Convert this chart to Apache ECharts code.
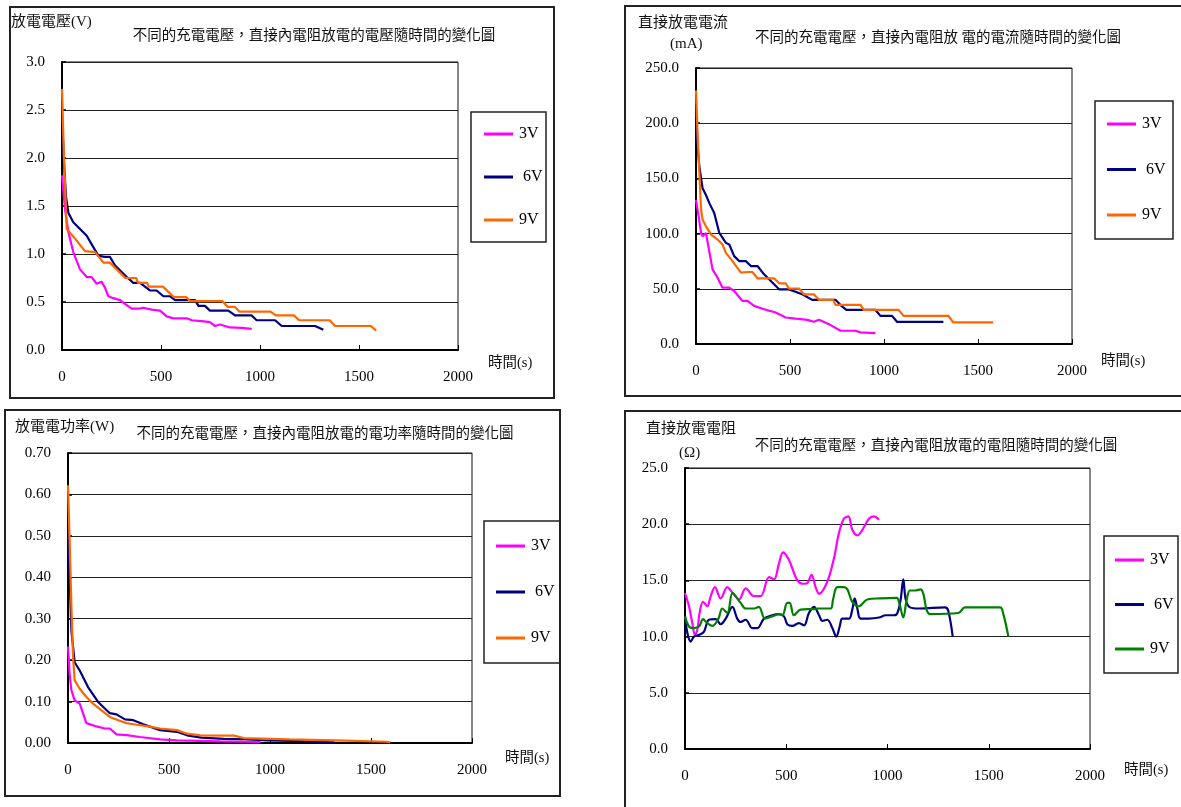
<!DOCTYPE html>
<html>
<head>
<meta charset="utf-8">
<script src="https://cdn.jsdelivr.net/npm/echarts@6/dist/echarts.min.js"></script>
<style>
  html, body { margin: 0; padding: 0; background: #fff; width: 1181px; height: 807px; overflow: hidden; position: relative; }
  .panel { position: absolute; }
</style>
</head>
<body>
<div id="pVolt" class="panel" style="left:9px;top:6px;width:546px;height:393px"></div>
<div id="pCurr" class="panel" style="left:624px;top:5px;width:562px;height:392px"></div>
<div id="pPow" class="panel" style="left:4px;top:409px;width:557px;height:388px"></div>
<div id="pRes" class="panel" style="left:624px;top:410px;width:562px;height:402px"></div>
<script>
// ---- time axis (s) ----
const timeTicks = [0, 500, 1000, 1500, 2000];
const seriesNames = ['3V', ' 6V', '9V'];

// ---- discharge voltage (V) ----
const voltT3 = [0, 15, 32, 57, 91, 125, 150, 175, 200, 217, 234, 259, 293, 318, 352, 386, 411, 453, 495, 529, 562, 630, 655, 705, 747, 773, 798, 848, 907, 958];
const volt3  = [1.82, 1.47, 1.23, 1.02, 0.84, 0.76, 0.76, 0.69, 0.71, 0.65, 0.56, 0.54, 0.52, 0.48, 0.43, 0.43, 0.44, 0.42, 0.41, 0.35, 0.33, 0.33, 0.31, 0.30, 0.29, 0.25, 0.265, 0.235, 0.23, 0.22];
const voltT6 = [0, 10, 20, 32, 57, 91, 125, 150, 184, 217, 242, 268, 327, 360, 394, 444, 478, 512, 545, 571, 672, 689, 722, 747, 840, 874, 958, 983, 1076, 1110, 1278, 1320];
const volt6  = [2.45, 1.95, 1.6, 1.43, 1.33, 1.26, 1.19, 1.10, 0.98, 0.97, 0.97, 0.88, 0.76, 0.70, 0.70, 0.62, 0.62, 0.56, 0.56, 0.52, 0.52, 0.46, 0.46, 0.41, 0.41, 0.36, 0.36, 0.31, 0.31, 0.25, 0.25, 0.21];
const voltT9 = [0, 10, 24, 66, 116, 167, 209, 242, 320, 375, 384, 429, 438, 510, 565, 628, 646, 809, 836, 872, 896, 1053, 1080, 1171, 1198, 1352, 1379, 1560, 1587];
const volt9  = [2.72, 2.0, 1.26, 1.16, 1.03, 1.02, 0.91, 0.91, 0.75, 0.75, 0.70, 0.70, 0.66, 0.66, 0.55, 0.55, 0.51, 0.51, 0.45, 0.45, 0.40, 0.40, 0.36, 0.36, 0.31, 0.31, 0.25, 0.25, 0.20];

// ---- discharge current (mA) ----
const currT3 = [0, 14, 27, 35, 53, 62, 88, 115, 141, 177, 203, 247, 274, 309, 362, 424, 477, 530, 592, 627, 654, 716, 769, 848, 875, 954];
const curr3  = [130.6, 115.6, 100.6, 97.6, 100.6, 99, 67.6, 60, 51, 51, 48, 39, 39, 34.5, 31.5, 28.5, 24, 23, 21.9, 20.1, 21.9, 17.1, 12, 12, 10.5, 9.9];
const currT6 = [0, 9, 18, 35, 53, 71, 97, 124, 159, 177, 203, 230, 265, 292, 327, 362, 398, 442, 495, 565, 618, 742, 770, 800, 954, 981, 1043, 1069, 1316];
const curr6  = [210, 178, 160.7, 141, 135, 127.6, 118.6, 100.6, 91.6, 90.1, 79.6, 75.1, 75.1, 70.6, 70.6, 63.1, 57.1, 49.5, 49.5, 45, 40, 40, 35, 31, 31, 25.5, 25.5, 20.1, 20.1];
const currT9 = [0, 9, 27, 35, 53, 80, 115, 141, 159, 194, 239, 274, 300, 327, 415, 442, 477, 495, 548, 574, 627, 654, 730, 742, 875, 892, 1078, 1104, 1343, 1369, 1581];
const curr9  = [229.7, 187.7, 121.6, 112.6, 106.6, 99.1, 94.6, 90.1, 82.6, 75.1, 64.6, 65.2, 65.2, 59.5, 59.5, 55, 55, 50.2, 50.2, 45, 45, 40, 40, 35.4, 35.4, 30.9, 30.9, 25.5, 25.5, 19.5, 19.5];

// ---- discharge power (W) ----
const powT3 = [0, 8, 17, 33, 58, 91, 141, 182, 207, 240, 290, 356, 456, 539, 754, 953];
const pow3  = [0.233, 0.167, 0.127, 0.103, 0.095, 0.048, 0.040, 0.035, 0.035, 0.021, 0.019, 0.0145, 0.0088, 0.0064, 0.004, 0.0024];
const powT6 = [0, 8, 17, 33, 58, 99, 149, 207, 240, 282, 323, 373, 456, 539, 589, 660, 772, 870, 988, 1100, 1320];
const pow6  = [0.52, 0.40, 0.27, 0.195, 0.175, 0.135, 0.099, 0.072, 0.069, 0.057, 0.055, 0.045, 0.031, 0.027, 0.0185, 0.013, 0.010, 0.009, 0.006, 0.005, 0.0015];
const powT9 = [0, 8, 17, 25, 33, 58, 91, 124, 166, 207, 249, 290, 340, 398, 456, 539, 589, 655, 821, 870, 1096, 1370, 1577, 1595];
const pow9  = [0.622, 0.489, 0.328, 0.208, 0.151, 0.131, 0.111, 0.095, 0.079, 0.063, 0.055, 0.048, 0.044, 0.040, 0.035, 0.031, 0.0225, 0.0185, 0.0177, 0.012, 0.0089, 0.0056, 0.003, 0.0015];

// ---- discharge resistance (Ω) ----
const resT3 = [0, 20, 36, 49, 61, 72, 89, 110, 127, 148, 176, 209, 234, 267, 300, 341, 374, 415, 440, 464, 484, 514, 555, 588, 604, 625, 645, 662, 703, 736, 760, 785, 807, 826, 851, 876, 909, 933, 958];
const res3  = [13.86, 12.67, 11.2, 10.15, 10.6, 12.1, 13.1, 12.7, 13.6, 14.4, 13.4, 14.4, 13.9, 13.3, 14.3, 13.6, 13.6, 15.3, 15.1, 16.5, 17.5, 16.8, 15.0, 14.7, 14.75, 15.5, 14.4, 13.8, 14.9, 17.0, 19.2, 20.5, 20.7, 19.5, 19.0, 19.5, 20.5, 20.7, 20.4];
const resT6 = [0, 12, 28, 44, 69, 94, 118, 151, 176, 201, 234, 258, 275, 300, 332, 357, 390, 431, 464, 489, 505, 530, 563, 588, 612, 637, 662, 678, 703, 728, 747, 764, 777, 810, 826, 838, 851, 867, 909, 958, 991, 1032, 1049, 1065, 1078, 1090, 1111, 1156, 1284, 1300, 1322];
const res6  = [11.8, 10.3, 9.55, 10.0, 10.15, 10.45, 11.5, 11.55, 11.1, 11.6, 12.65, 11.6, 11.3, 11.5, 10.75, 10.75, 11.6, 11.9, 12.0, 11.8, 11.1, 10.95, 11.2, 11.0, 12.1, 12.65, 11.9, 11.4, 11.5, 10.75, 10.0, 10.9, 11.6, 11.6, 12.4, 13.4, 12.5, 11.6, 11.6, 11.7, 11.9, 11.9, 12.1, 13.3, 15.1, 13.3, 12.6, 12.5, 12.6, 12.3, 10.0];
const resT9 = [0, 16, 36, 69, 89, 110, 135, 165, 184, 209, 234, 250, 275, 300, 341, 365, 395, 431, 464, 481, 505, 517, 538, 571, 629, 662, 719, 731, 752, 785, 802, 826, 859, 900, 963, 1045, 1058, 1078, 1095, 1111, 1136, 1164, 1177, 1193, 1210, 1350, 1383, 1556, 1572, 1597];
const res9  = [11.8, 11.0, 10.75, 10.9, 11.55, 11.2, 10.95, 11.6, 12.5, 12.1, 13.9, 13.6, 13.0, 12.5, 12.5, 12.65, 11.6, 11.8, 12.0, 11.9, 13.0, 13.0, 11.9, 12.4, 12.45, 12.5, 12.5, 13.3, 14.4, 14.4, 14.2, 13.1, 12.7, 13.3, 13.4, 13.45, 13.0, 11.7, 13.3, 14.1, 14.1, 14.2, 13.8, 12.4, 12.0, 12.1, 12.6, 12.6, 12.0, 10.0];

const FONT = '"Liberation Serif", "Noto Sans CJK TC", serif';
const MAGENTA = '#ff00ff', NAVY = '#000080', ORANGE = '#ff6600', GREEN = '#008000';

function pairs(t, v) { return t.map((x, i) => [x, v[i]]); }

function buildPanel(id, cfg) {
  const el = document.getElementById(id);
  const chart = echarts.init(el, null, { renderer: 'canvas' });
  const W = el.clientWidth, H = el.clientHeight;
  const texts = cfg.texts.map(tx => ({
    type: 'text', x: tx.x, y: tx.y, silent: true,
    style: { text: tx.text, fontFamily: FONT, fontSize: tx.size || 14.5, fill: '#111',
             textAlign: tx.align || 'left', textVerticalAlign: 'middle' }
  }));
  const lb = cfg.legendBox;
  chart.setOption({
    animation: false,
    backgroundColor: '#fff',
    graphic: [
      { type: 'rect', silent: true, shape: { x: lb.x, y: lb.y, width: lb.w, height: lb.h },
        style: { fill: '#fff', stroke: '#222', lineWidth: 1.5 } },
      // outer frame drawn last so it stays on top of the legend box
      { type: 'rect', silent: true, z: 100, shape: { x: 1, y: 1, width: W - 2, height: H - 2 },
        style: { fill: 'none', stroke: '#222', lineWidth: 2 } }
    ].concat(texts),
    grid: { left: cfg.grid[0], top: cfg.grid[1], width: cfg.grid[2], height: cfg.grid[3],
            show: true, borderColor: '#111', borderWidth: 1, backgroundColor: 'transparent' },
    legend: {
      orient: 'vertical', left: cfg.legend[0], top: cfg.legend[1], padding: 0,
      itemGap: cfg.legend[2], itemWidth: 29, itemHeight: 3, icon: 'rect',
      selectedMode: false, data: seriesNames, z: 10,
      textStyle: { fontFamily: FONT, fontSize: 16, color: '#000', lineHeight: 16, padding: [0, 0, 0, 1] }
    },
    xAxis: {
      type: 'value', min: timeTicks[0], max: timeTicks[timeTicks.length - 1],
      interval: timeTicks[1] - timeTicks[0],
      axisLine: { show: true, lineStyle: { color: '#000', width: 2 } },
      axisTick: { show: true, inside: true, length: 5, lineStyle: { color: '#000', width: 1 } },
      axisLabel: { margin: 20, fontFamily: FONT, fontSize: 15, color: '#000',
                   formatter: v => String(v) },
      splitLine: { show: false }
    },
    yAxis: {
      type: 'value', min: 0, max: cfg.yMax, interval: cfg.yStep,
      axisLine: { show: true, lineStyle: { color: '#000', width: 2 } },
      axisTick: { show: true, inside: true, length: 4, lineStyle: { color: '#000', width: 1.5 } },
      axisLabel: { margin: 17, fontFamily: FONT, fontSize: 15, color: '#000',
                   formatter: v => v.toFixed(cfg.yDigits) },
      splitLine: { show: true, lineStyle: { color: '#222', width: 1 } }
    },
    series: cfg.series.map((s, i) => ({
      type: 'line', name: seriesNames[i], data: pairs(s.t, s.v),
      symbol: 'none', smooth: cfg.smooth || false, z: 3 + i,
      lineStyle: { color: s.color, width: 2.2 }, itemStyle: { color: s.color }
    }))
  });
}

// Voltage panel
buildPanel('pVolt', {
  grid: [53, 56, 396, 288], yMax: 3.0, yStep: 0.5, yDigits: 1,
  legendBox: { x: 462, y: 106, w: 75, h: 130 }, legend: [475, 120, 27],
  texts: [
    { text: '放電電壓(V)', x: 2, y: 16, size: 15 },
    { text: '不同的充電電壓，直接內電阻放電的電壓隨時間的變化圖', x: 305, y: 30, align: 'center' },
    { text: '時間(s)', x: 479, y: 357 }
  ],
  series: [ { t: voltT3, v: volt3, color: MAGENTA }, { t: voltT6, v: volt6, color: NAVY }, { t: voltT9, v: volt9, color: ORANGE } ]
});

// Current panel
buildPanel('pCurr', {
  grid: [72, 63, 376, 276], yMax: 250, yStep: 50, yDigits: 1,
  legendBox: { x: 471, y: 96, w: 78, h: 138 }, legend: [483, 111, 29.5],
  texts: [
    { text: '直接放電電流', x: 14, y: 18, size: 15 },
    { text: '(mA)', x: 46, y: 39, size: 15 },
    { text: '不同的充電電壓，直接內電阻放 電的電流隨時間的變化圖', x: 314, y: 33, align: 'center' },
    { text: '時間(s)', x: 477, y: 356 }
  ],
  series: [ { t: currT3, v: curr3, color: MAGENTA }, { t: currT6, v: curr6, color: NAVY }, { t: currT9, v: curr9, color: ORANGE } ]
});

// Power panel
buildPanel('pPow', {
  grid: [64, 44, 404, 290], yMax: 0.7, yStep: 0.1, yDigits: 2,
  legendBox: { x: 480, y: 112, w: 76, h: 142 }, legend: [492, 129, 30],
  texts: [
    { text: '放電電功率(W)', x: 11, y: 18, size: 15 },
    { text: '不同的充電電壓，直接內電阻放電的電功率隨時間的變化圖', x: 321, y: 25, align: 'center' },
    { text: '時間(s)', x: 501, y: 349 }
  ],
  series: [ { t: powT3, v: pow3, color: MAGENTA }, { t: powT6, v: pow6, color: NAVY }, { t: powT9, v: pow9, color: ORANGE } ]
});

// Resistance panel
buildPanel('pRes', {
  grid: [61, 58, 405, 281], yMax: 25, yStep: 5, yDigits: 1, smooth: 0.35,
  legendBox: { x: 480, y: 126, w: 74, h: 137 }, legend: [491, 142, 28.5],
  texts: [
    { text: '直接放電電阻', x: 22, y: 19, size: 15 },
    { text: '(Ω)', x: 55, y: 43, size: 15 },
    { text: '不同的充電電壓，直接內電阻放電的電阻隨時間的變化圖', x: 312, y: 36, align: 'center' },
    { text: '時間(s)', x: 500, y: 360 }
  ],
  series: [ { t: resT3, v: res3, color: MAGENTA }, { t: resT6, v: res6, color: NAVY }, { t: resT9, v: res9, color: GREEN } ]
});
</script>
</body>
</html>
